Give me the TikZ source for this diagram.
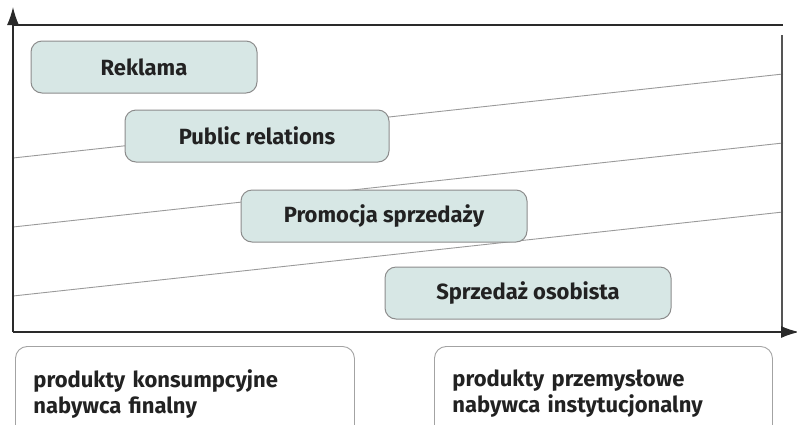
\documentclass[tikz,border=0pt]{standalone}
\usepackage{fontspec}
\setmainfont{Fira Sans}
\usetikzlibrary{arrows.meta}
\definecolor{boxfill}{HTML}{D7E7E5}
\definecolor{boxline}{HTML}{8C8C8C}
\definecolor{guide}{HTML}{9A9A9A}
\definecolor{axis}{HTML}{2A2A2A}
\definecolor{ink}{HTML}{222222}
\begin{document}
\begin{tikzpicture}[x=1pt,y=-1pt,
  tool/.style={draw=boxline,line width=1pt,fill=boxfill,rounded corners=11pt,
    minimum width=#1,minimum height=52pt,inner sep=0pt,
    font=\fontsize{22}{24}\selectfont\bfseries,text=ink},
  bottombox/.style={draw=boxline!80,line width=0.9pt,fill=white,rounded corners=12pt,
    anchor=north west,text width=#1,align=left,inner xsep=18pt,inner ysep=23pt,
    font=\fontsize{22}{26}\selectfont\bfseries,text=ink},
  guideline/.style={draw=guide,line width=0.9pt},
  axisline/.style={draw=axis,line width=1.3pt}]
\useasboundingbox (0,0) rectangle (797,424);
\clip (0,0) rectangle (797,424);
% frame
\coordinate (o) at (13,332);
\coordinate (ytip) at (13,7);
\coordinate (xtip) at (799,332);
\coordinate (tl) at (13,25);
\coordinate (tr) at (783,25);
\coordinate (rt) at (782,35);
\coordinate (rb) at (782,332);
% guide lines
\coordinate (a1) at (13,158); \coordinate (b1) at (783,74);
\coordinate (a2) at (13,227); \coordinate (b2) at (783,143);
\coordinate (a3) at (13,296); \coordinate (b3) at (783,212);
\draw[guideline] (a1) -- (b1);
\draw[guideline] (a2) -- (b2);
\draw[guideline] (a3) -- (b3);
\draw[axisline] (tl) -- (tr);
\draw[draw=axis!80,line width=2pt] (rt) -- (rb);
\draw[axisline,-{Latex[length=18pt,width=12pt]}] (o) -- (ytip);
\draw[axisline,-{Latex[length=18pt,width=12pt]}] (o) -- (xtip);
% tools
\node[tool=226pt] (rek) at (144,67) {Reklama};
\node[tool=264pt] (pr) at (257,136) {Public relations};
\node[tool=286pt] (ps) at (384,216) {Promocja sprzedaży};
\node[tool=286pt] (so) at (528,293) {Sprzedaż osobista};
% bottom boxes
\node[bottombox=303pt] (kons) at (15,346) {produkty konsumpcyjne\\nabywca finalny};
\node[bottombox=302pt] (prz) at (434,346) {produkty przemysłowe\\nabywca instytucjonalny};
\end{tikzpicture}
\end{document}
